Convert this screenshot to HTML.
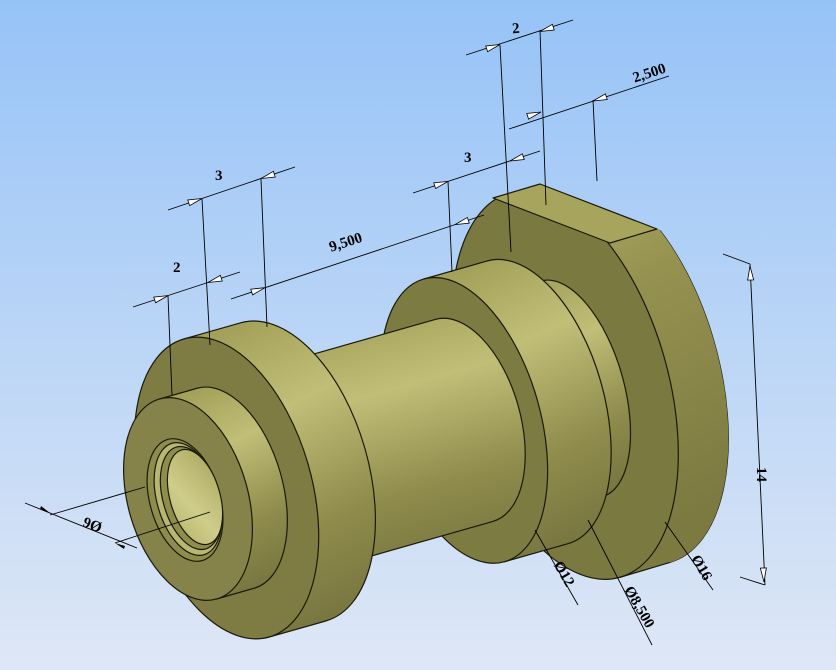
<!DOCTYPE html>
<html><head><meta charset="utf-8"><style>
html,body{margin:0;padding:0;}
body{width:836px;height:670px;overflow:hidden;}
svg{display:block;}
text{font-family:"Liberation Serif",serif;font-weight:bold;font-size:15px;fill:#000;}
</style></head><body>
<svg width="836" height="670" viewBox="0 0 836 670" xmlns="http://www.w3.org/2000/svg">
<defs>
<linearGradient id="bg" x1="0" y1="0" x2="0" y2="1">
<stop offset="0" stop-color="#96c3f7"/><stop offset="1" stop-color="#dee7f6"/>
</linearGradient>
<linearGradient id="latS" x1="0.35" y1="0" x2="0.65" y2="1">
<stop offset="0" stop-color="#a4a25a"/><stop offset="0.3" stop-color="#c1be78"/><stop offset="0.7" stop-color="#8e8b4b"/><stop offset="1" stop-color="#777540"/>
</linearGradient>
<linearGradient id="bigR" x1="0" y1="0" x2="0.3" y2="1">
<stop offset="0" stop-color="#b2b06a"/><stop offset="0.4" stop-color="#959250"/><stop offset="1" stop-color="#7c7a41"/>
</linearGradient>
<linearGradient id="bore" x1="0" y1="0" x2="1" y2="1">
<stop offset="0" stop-color="#a7a55c"/><stop offset="0.6" stop-color="#cfcd8a"/><stop offset="1" stop-color="#b5b36c"/>
</linearGradient>
<clipPath id="flat"><polygon points="293,121 493,198 540,184 657,229 900,322 900,700 0,700 0,121"/></clipPath>
<polygon id="ar" points="0,0 -14,-3 -14,3" fill="#fff" stroke="#000" stroke-width="0.8"/>
</defs>
<rect width="836" height="670" fill="url(#bg)"/>
<g stroke="#1a1a0a" stroke-width="1.2" stroke-linejoin="round">
<!-- big flange -->
<g clip-path="url(#flat)">
<ellipse cx="615" cy="370" rx="200" ry="103" transform="rotate(74 615 370)" fill="url(#bigR)"/>
<path d="M510.2,192.6 L560.2,177.6 A200,103 74 0 1 669.8,562.4 L619.8,577.4 Z" fill="url(#bigR)" stroke="none"/>
<ellipse cx="565" cy="385" rx="200" ry="103" transform="rotate(74 565 385)" fill="#7a7940"/>
</g>
<path d="M669.8,562.4 L619.8,577.4" fill="none"/>
<polygon points="493,198 540,184 657,229 610,243" fill="#a6a45d"/>
<!-- groove -->
<path d="M497,294 L541,281 A112,52 74 0 1 602.5,496.5 L558.5,509.5 Z" fill="url(#latS)"/>
<!-- collar -->
<path d="M423.8,279 L487.3,260.9 A147,76 74 0 1 567.9,543.7 L504.4,561.8 Z" fill="url(#latS)"/>
<ellipse cx="464.1" cy="420.4" rx="147" ry="76" transform="rotate(74 464.1 420.4)" fill="#7c7b42"/>
<!-- shaft -->
<path d="M254.4,370.9 L435.3,319.4 A105,56 74 0 1 492.9,521.4 L312,572.9 Z" fill="url(#latS)"/>
<!-- flange -->
<path d="M184,338.9 L240.7,322.8 A155,85 74 0 1 325.7,621 L269,637.1 Z" fill="url(#latS)"/>
<ellipse cx="226.5" cy="488" rx="155" ry="85" transform="rotate(74 226.5 488)" fill="#7e7c43"/>
<!-- boss -->
<path d="M159.5,399 L198,388 A104,57 74 0 1 255,588 L216.5,599 Z" fill="url(#latS)"/>
<ellipse cx="188" cy="499" rx="104" ry="60" transform="rotate(74 188 499)" fill="#858349"/>
<!-- hole -->
<ellipse cx="185" cy="500" rx="63" ry="35" transform="rotate(74 185 500)" fill="#8e8c4c"/>
<ellipse cx="188" cy="499" rx="58" ry="31" transform="rotate(74 188 499)" fill="#b8b671"/>
<ellipse cx="191" cy="498" rx="53" ry="28" transform="rotate(74 191 498)" fill="#8f8d4d"/>
<ellipse cx="195" cy="497" rx="49" ry="25" transform="rotate(74 195 497)" fill="url(#bore)"/>
</g>
<!-- dimensions -->
<g stroke="#000" stroke-width="0.9" fill="none">
<line x1="466" y1="55" x2="573" y2="20"/>
<line x1="500" y1="45" x2="511" y2="252"/>
<line x1="540" y1="30" x2="546" y2="205"/>
<line x1="509" y1="129" x2="669" y2="76"/>
<line x1="593" y1="100" x2="597" y2="181"/>
<line x1="413" y1="193" x2="540" y2="151"/>
<line x1="448" y1="181" x2="452" y2="272"/>
<line x1="231" y1="299" x2="484" y2="215"/>
<line x1="168" y1="210" x2="295" y2="167"/>
<line x1="202" y1="199" x2="210" y2="345"/>
<line x1="261" y1="179" x2="267" y2="327"/>
<line x1="133" y1="307" x2="240" y2="272"/>
<line x1="168" y1="296" x2="172" y2="395"/>
<line x1="25" y1="503" x2="137" y2="548"/>
<line x1="50" y1="515" x2="145" y2="487"/>
<line x1="115" y1="543" x2="210" y2="512"/>
<line x1="723" y1="254" x2="750" y2="264"/>
<line x1="750" y1="264" x2="765" y2="585"/>
<line x1="740" y1="577" x2="765" y2="585"/>
<line x1="535" y1="530" x2="578" y2="605"/>
<line x1="588" y1="520" x2="652" y2="645"/>
<line x1="665" y1="522" x2="713" y2="590"/>
</g>
<use href="#ar" transform="translate(500,44.5) rotate(-18)"/>
<use href="#ar" transform="translate(540,31.5) rotate(162)"/>
<use href="#ar" transform="translate(541,112) rotate(-18)"/>
<use href="#ar" transform="translate(593,101) rotate(162)"/>
<use href="#ar" transform="translate(448,181.4) rotate(-18)"/>
<use href="#ar" transform="translate(510,161) rotate(162)"/>
<use href="#ar" transform="translate(265,287.7) rotate(-18)"/>
<use href="#ar" transform="translate(455,224.6) rotate(162)"/>
<use href="#ar" transform="translate(202,198.5) rotate(-18)"/>
<use href="#ar" transform="translate(261,178.5) rotate(162)"/>
<use href="#ar" transform="translate(168,295.6) rotate(-18)"/>
<use href="#ar" transform="translate(208,282.5) rotate(162)"/>
<use href="#ar" transform="translate(750,266) rotate(-92.7)"/>
<use href="#ar" transform="translate(764,582) rotate(87.3)"/>
<g fill="#000">
<polygon points="50,513 40,509 41,506"/>
<polygon points="115,543 125,546 124,549"/>
</g>
<text x="512" y="33" transform="rotate(-5 517 28)">2</text>
<text x="632" y="78" transform="rotate(-18 648 72)">2,500</text>
<text x="464" y="162">3</text>
<text x="328" y="247" transform="rotate(-18 345 240)">9,500</text>
<text x="215" y="180">3</text>
<text x="173" y="272">2</text>
<text x="84" y="530" transform="rotate(200 93 525)">Ø6</text>
<text x="754" y="480" transform="rotate(90 762 475)">14</text>
<text x="552" y="573" transform="rotate(60 560 570)">Ø12</text>
<text x="618" y="600" transform="rotate(60 630 600)">Ø8,500</text>
<text x="690" y="566" transform="rotate(60 697 563)">Ø16</text>
</svg>
</body></html>
